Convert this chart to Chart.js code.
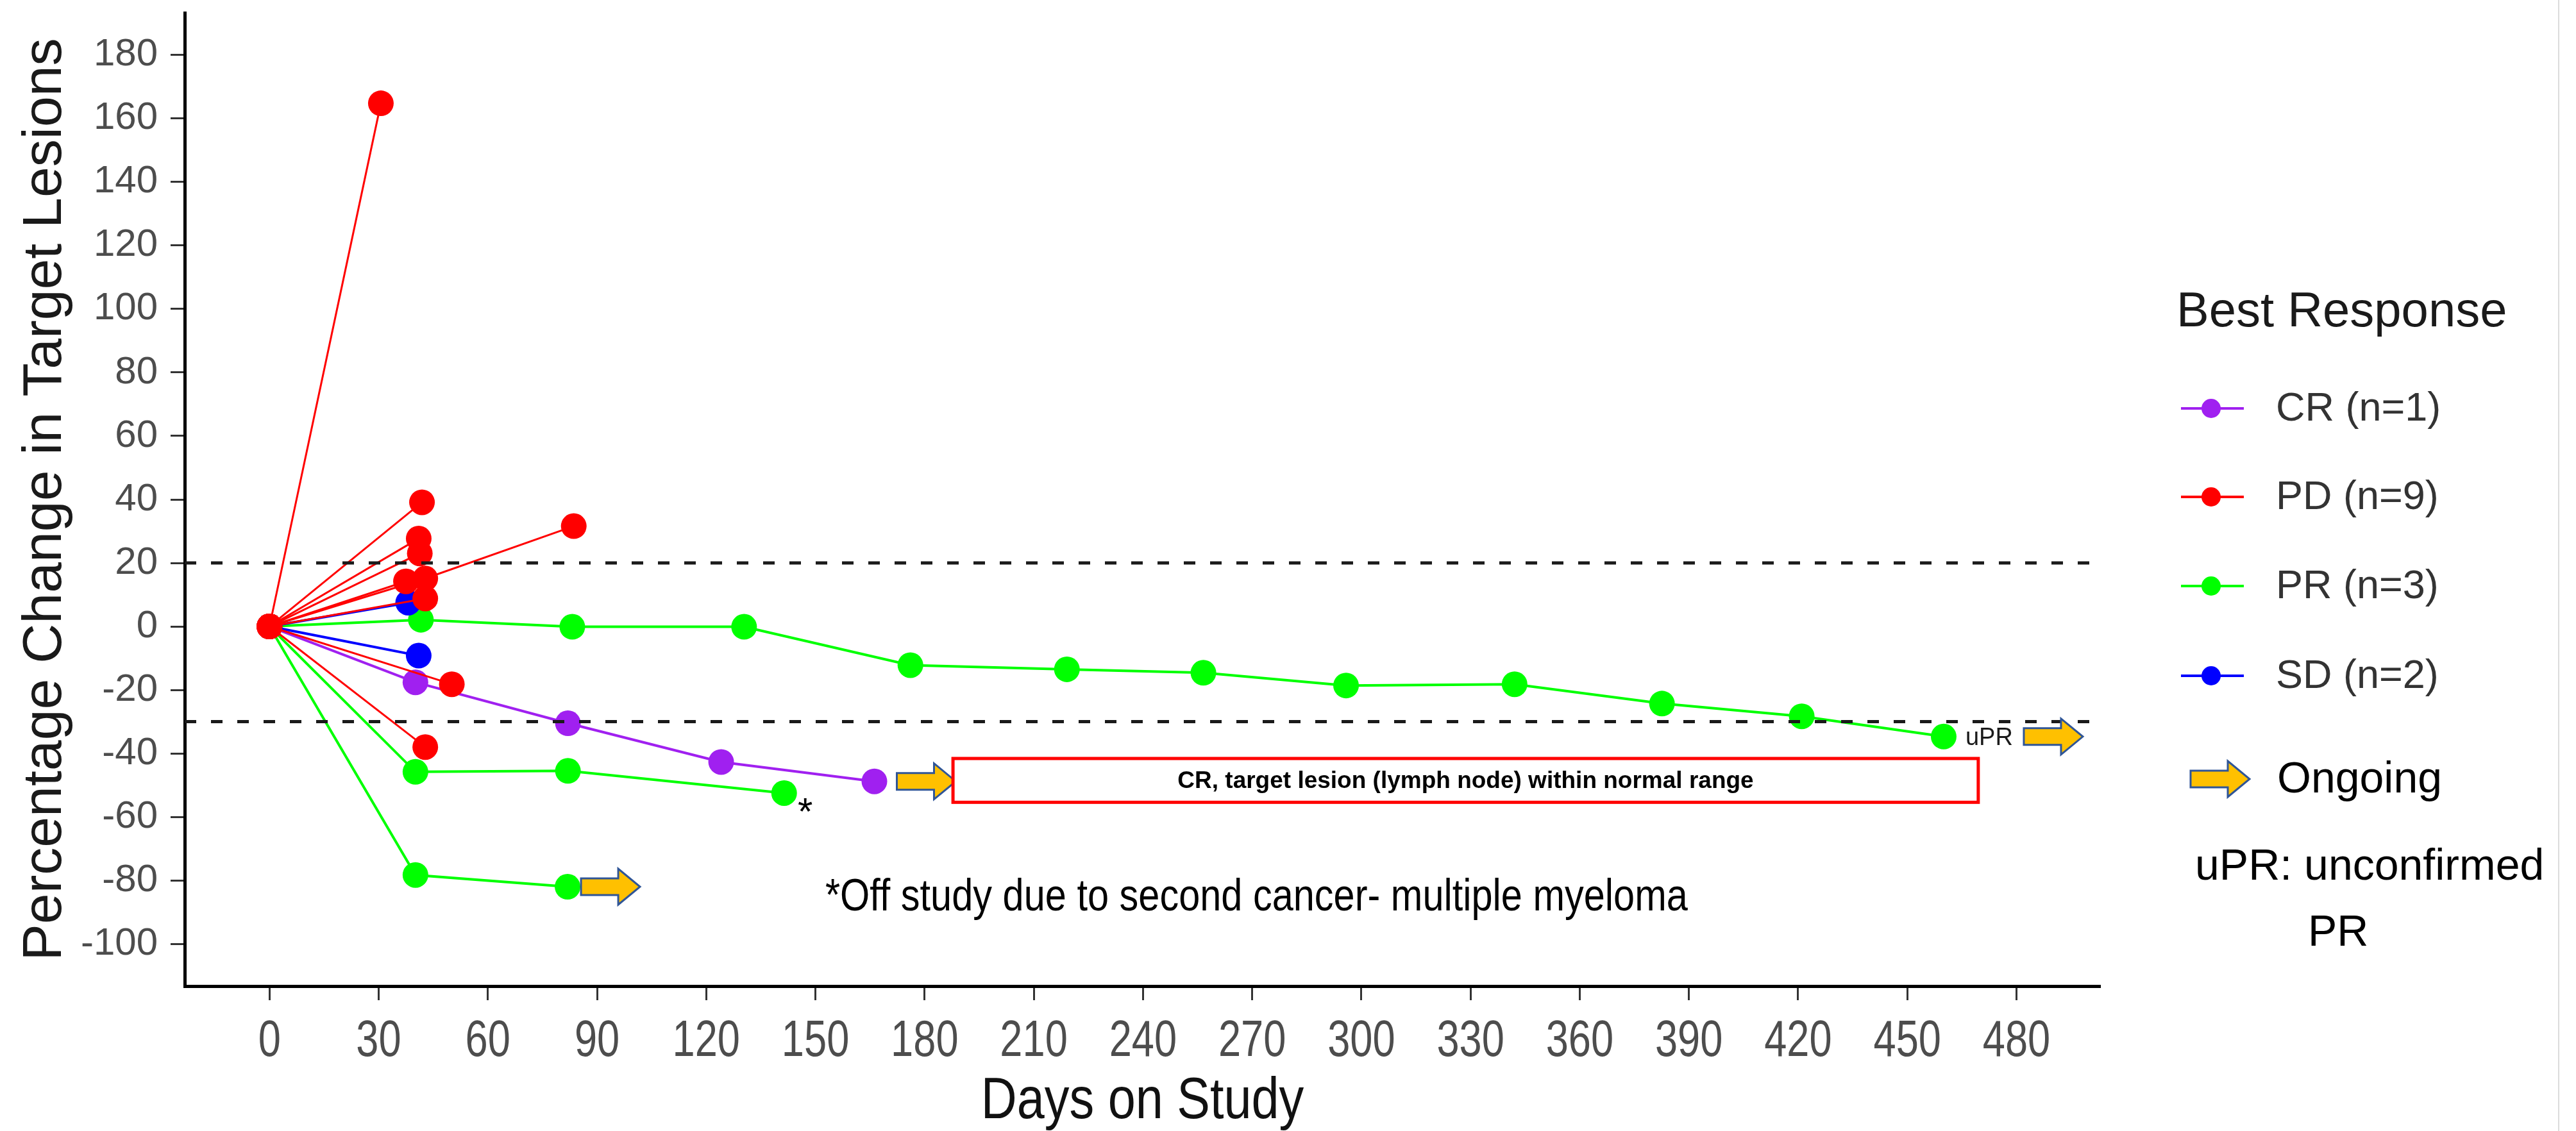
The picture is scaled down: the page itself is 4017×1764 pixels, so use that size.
<!DOCTYPE html>
<html>
<head>
<meta charset="utf-8">
<script src="https://cdn.jsdelivr.net/npm/chart.js@4/dist/chart.umd.min.js"></script>
<style>
html, body { margin: 0; padding: 0; background: #fff; }
canvas { display: block; }
</style>
</head>
<body>
<canvas id="chart" width="4017" height="1764"></canvas>
<script>
// one inner array per patient: days on study / % change in target lesions
var crDays = [[0, 40.1, 82, 124.1, 166.2]];
var crValues = [[0, -17.6, -30.5, -42.7, -48.8]];

var pdDays = [[0, 30.6], [0, 41.9], [0, 41], [0, 41.3], [0, 37.5], [0, 42.8, 83.6], [0, 42.8], [0, 50.1], [0, 42.8]];
var pdValues = [[0, 164.8], [0, 39.1], [0, 27.7], [0, 23], [0, 14.2], [0, 15.1, 31.6], [0, 8.8], [0, -18.2], [0, -38]];

var prDays = [[0, 41.6, 83.2, 130.4, 176.1, 219.1, 256.6, 295.8, 342.1, 382.6, 421, 460], [0, 40.1, 82, 141.4], [0, 40.1, 81.9]];
var prValues = [[0, 2.1, -0.1, -0.1, -12.2, -13.5, -14.6, -18.6, -18.2, -24.3, -28.3, -34.7], [0, -45.8, -45.5, -52.5], [0, -78.3, -82]];

var sdDays = [[0, 38.1], [0, 41]];
var sdValues = [[0, 7.5], [0, -9.2]];

var xTicks = [0, 30, 60, 90, 120, 150, 180, 210, 240, 270, 300, 330, 360, 390, 420, 450, 480];
var yTicks = [-100, -80, -60, -40, -20, 0, 20, 40, 60, 80, 100, 120, 140, 160, 180];
var thresholds = [20, -30];

var sans = "'Liberation Sans', Arial, sans-serif";

var groups = [
    {name: 'CR', days: crDays, values: crValues, color: '#A020F0', width: 4},
    {name: 'PD', days: pdDays, values: pdValues, color: '#FF0000', width: 3},
    {name: 'PR', days: prDays, values: prValues, color: '#00FF00', width: 4},
    {name: 'SD', days: sdDays, values: sdValues, color: '#0000FF', width: 4}
];

// patients still on study get an arrow after their last point
var ongoing = [
    {group: 'CR', patient: 0, dx: 35},
    {group: 'PR', patient: 2, dx: 21},
    {group: 'PR', patient: 0, dx: 125, note: 'uPR'}
];
var offStudy = {group: 'PR', patient: 1};

function groupByName(n) {
    return groups.filter(function (g) { return g.name == n; })[0];
}

// PD drawn on top, so it goes first
var drawOrder = ['PD', 'SD', 'PR', 'CR'];
var datasets = [];
drawOrder.forEach(function (n) {
    var g = groupByName(n);
    g.days.forEach(function (d, i) {
        datasets.push({
            label: g.name,
            data: d.map(function (x, j) { return {x: x, y: g.values[i][j]}; }),
            showLine: true,
            borderColor: g.color,
            backgroundColor: g.color,
            borderWidth: g.width,
            pointRadius: 20,
            pointBorderWidth: 0,
            pointBackgroundColor: g.color,
            tension: 0
        });
    });
});

function lastPoint(chart, ref) {
    var g = groupByName(ref.group);
    var d = g.days[ref.patient], v = g.values[ref.patient];
    var n = d.length - 1;
    return {x: chart.scales.x.getPixelForValue(d[n]), y: chart.scales.y.getPixelForValue(v[n])};
}

// text squeezed horizontally, the original uses a narrow face
function narrowText(ctx, txt, x, y, sx, align) {
    ctx.save();
    ctx.translate(x, y);
    ctx.scale(sx, 1);
    ctx.textAlign = align;
    ctx.fillText(txt, 0, 0);
    ctx.restore();
}

function drawArrow(ctx, x0, yc) {
    var len = 92, bodyH = 26, headH = 56, headL = 34;
    ctx.save();
    ctx.beginPath();
    ctx.moveTo(x0, yc - bodyH / 2);
    ctx.lineTo(x0 + len - headL, yc - bodyH / 2);
    ctx.lineTo(x0 + len - headL, yc - headH / 2);
    ctx.lineTo(x0 + len, yc);
    ctx.lineTo(x0 + len - headL, yc + headH / 2);
    ctx.lineTo(x0 + len - headL, yc + bodyH / 2);
    ctx.lineTo(x0, yc + bodyH / 2);
    ctx.closePath();
    ctx.fillStyle = '#FFC000';
    ctx.fill();
    ctx.lineWidth = 3;
    ctx.strokeStyle = '#2F5597';
    ctx.stroke();
    ctx.restore();
}

var annotations = {
    id: 'annotations',
    afterDatasetsDraw: function (chart) {
        var ctx = chart.ctx, xs = chart.scales.x, ys = chart.scales.y, area = chart.chartArea;
        ctx.save();
        // response thresholds
        ctx.setLineDash([18, 23]);
        ctx.lineWidth = 5;
        ctx.strokeStyle = '#1a1a1a';
        thresholds.forEach(function (t) {
            var py = ys.getPixelForValue(t);
            ctx.beginPath();
            ctx.moveTo(area.left, py);
            ctx.lineTo(area.right, py);
            ctx.stroke();
        });
        ctx.setLineDash([]);

        ongoing.forEach(function (o) {
            var p = lastPoint(chart, o);
            if (o.note) {
                ctx.font = "38px " + sans;
                ctx.fillStyle = '#1a1a1a';
                ctx.textAlign = 'left';
                ctx.textBaseline = 'middle';
                ctx.fillText(o.note, p.x + 34, p.y + 3);
            }
            drawArrow(ctx, p.x + o.dx, p.y);
        });

        var s = lastPoint(chart, offStudy);
        ctx.font = "60px " + sans;
        ctx.fillStyle = '#000';
        ctx.textAlign = 'center';
        ctx.textBaseline = 'middle';
        ctx.fillText('*', s.x + 33, s.y + 32);

        // CR note box
        var bx0 = xs.getPixelForValue(187.8), bx1 = xs.getPixelForValue(469.5);
        var by0 = ys.getPixelForValue(-41.6), by1 = ys.getPixelForValue(-55.4);
        ctx.fillStyle = '#fff';
        ctx.fillRect(bx0, by0, bx1 - bx0, by1 - by0);
        ctx.lineWidth = 5;
        ctx.strokeStyle = '#FF0000';
        ctx.strokeRect(bx0, by0, bx1 - bx0, by1 - by0);
        ctx.font = "bold 37px " + sans;
        ctx.fillStyle = '#000';
        ctx.fillText('CR, target lesion (lymph node) within normal range', (bx0 + bx1) / 2, (by0 + by1) / 2 + 2);

        ctx.font = "70px " + sans;
        ctx.textBaseline = 'alphabetic';
        narrowText(ctx, '*Off study due to second cancer- multiple myeloma', xs.getPixelForValue(152.7), ys.getPixelForValue(-84.4) + 25, 0.85, 'left');
        ctx.restore();
    },
    afterDraw: function (chart) {
        var ctx = chart.ctx, xs = chart.scales.x, area = chart.chartArea;
        ctx.save();

        // x tick labels and axis title
        ctx.textBaseline = 'alphabetic';
        ctx.font = "80px " + sans;
        ctx.fillStyle = '#4d4d4d';
        xs.ticks.forEach(function (t) {
            narrowText(ctx, String(t.value), xs.getPixelForValue(t.value), 1647, 0.79, 'center');
        });
        ctx.font = "90px " + sans;
        ctx.fillStyle = '#111';
        narrowText(ctx, 'Days on Study', (area.left + area.right) / 2, 1744, 0.86, 'center');

        // legend
        ctx.textAlign = 'left';
        ctx.textBaseline = 'middle';
        ctx.font = "76px " + sans;
        ctx.fillStyle = '#1a1a1a';
        ctx.fillText('Best Response', 3394, 488);

        var rowY = [637, 775, 914, 1054];
        groups.forEach(function (g, i) {
            var y = rowY[i];
            ctx.strokeStyle = g.color;
            ctx.lineWidth = 4;
            ctx.beginPath();
            ctx.moveTo(3401, y);
            ctx.lineTo(3499, y);
            ctx.stroke();
            ctx.fillStyle = g.color;
            ctx.beginPath();
            ctx.arc(3448, y, 15, 0, Math.PI * 2);
            ctx.fill();
            ctx.font = "63px " + sans;
            ctx.fillStyle = '#333';
            ctx.fillText(g.name + ' (n=' + g.days.length + ')', 3549, y + 2);
        });

        drawArrow(ctx, 3416, 1215);
        ctx.font = "68px " + sans;
        ctx.fillStyle = '#000';
        ctx.fillText('Ongoing', 3551, 1217);
        ctx.fillText('uPR: unconfirmed', 3423, 1353);
        ctx.fillText('PR', 3599, 1456);

        ctx.strokeStyle = '#dcdcdc';
        ctx.lineWidth = 2;
        ctx.beginPath();
        ctx.moveTo(3990, 0);
        ctx.lineTo(3990, 1764);
        ctx.stroke();
        ctx.restore();
    }
};

var chart = new Chart(document.getElementById('chart').getContext('2d'), {
    type: 'scatter',
    data: {datasets: datasets},
    options: {
        responsive: false,
        animation: false,
        devicePixelRatio: 1,
        layout: {padding: {top: 20, right: 742, bottom: 0, left: 0}},
        plugins: {legend: {display: false}, tooltip: {enabled: false}},
        scales: {
            x: {
                type: 'linear',
                min: -23.3,
                max: 503,
                afterBuildTicks: function (s) { s.ticks = xTicks.map(function (v) { return {value: v}; }); },
                afterFit: function (s) { s.height = 226; s.paddingLeft = 0; s.paddingRight = 0; },
                border: {display: true, color: '#000', width: 5},
                grid: {drawOnChartArea: false, drawTicks: true, tickLength: 22, tickWidth: 3, tickColor: '#333'},
                ticks: {display: false},
                title: {display: false}
            },
            y: {
                type: 'linear',
                min: -113.3,
                max: 193.3,
                afterBuildTicks: function (s) { s.ticks = yTicks.map(function (v) { return {value: v}; }); },
                afterFit: function (s) { s.width = 288; s.paddingTop = 0; s.paddingBottom = 0; },
                border: {display: true, color: '#000', width: 5},
                grid: {drawOnChartArea: false, drawTicks: true, tickLength: 22, tickWidth: 3, tickColor: '#333'},
                ticks: {color: '#4d4d4d', font: {family: sans, size: 60}, padding: 20},
                title: {display: true, text: 'Percentage Change in Target Lesions', color: '#1a1a1a', font: {family: sans, size: 86}, padding: {top: 20, bottom: 0}}
            }
        }
    },
    plugins: [annotations]
});
</script>
</body>
</html>
